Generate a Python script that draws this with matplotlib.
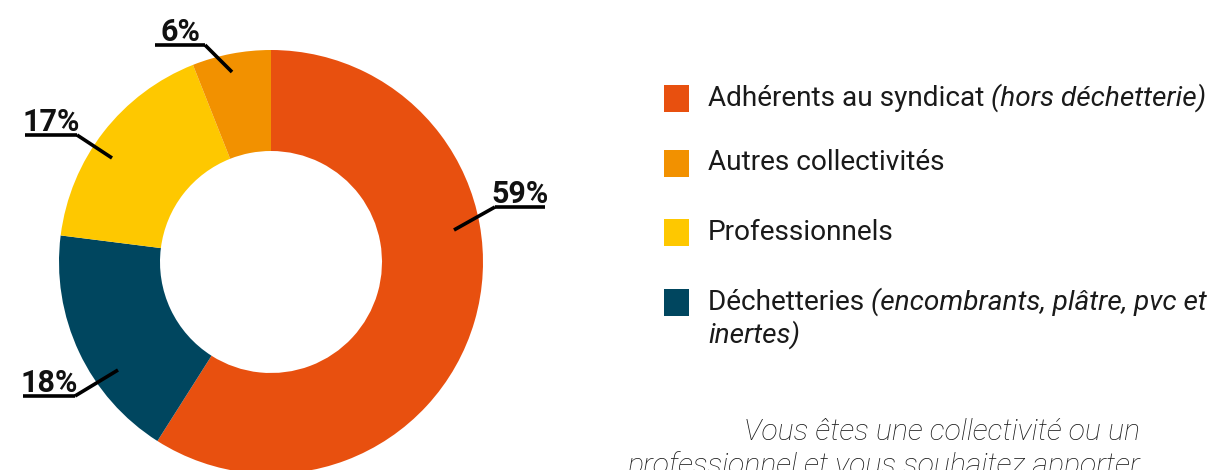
import matplotlib
matplotlib.use("Agg")
import matplotlib.pyplot as plt
from matplotlib.patches import Rectangle

W, H = 1218, 470

# data
categories = ["Adhérents au syndicat", "Déchetteries", "Professionnels", "Autres collectivités"]
values = [59, 18, 17, 6]
labels = ["59%", "18%", "17%", "6%"]
colors = ["#E8500F", "#00465F", "#FEC800", "#F29100"]

legend_main = ["Adhérents au syndicat ", "Autres collectivités", "Professionnels", "Déchetteries "]
legend_extra = ["(hors déchetterie)", "", "", "(encombrants, plâtre, pvc et"]
legend_colors = ["#E8500F", "#F29100", "#FEC800", "#00465F"]

fig = plt.figure(figsize=(W / 100, H / 100), dpi=100)
ax = fig.add_axes([0, 0, 1, 1])

def Y(y):
    return H - y

cx, cy, R, r_in = 271, 262, 212, 111
ax.pie(values, colors=colors, startangle=90, counterclock=False,
       center=(cx, Y(cy)), radius=R, frame=True,
       wedgeprops=dict(width=R - r_in, linewidth=0))
ax.set_xlim(0, W)
ax.set_ylim(0, H)
ax.axis("off")

label_pos = {
    "59%": dict(ux0=495, ux1=545, uy=207, px=454, py=230, start="left"),
    "18%": dict(ux0=23, ux1=75, uy=396, px=118, py=370, start="right"),
    "17%": dict(ux0=25, ux1=77, uy=135, px=112, py=158, start="right"),
    "6%": dict(ux0=155, ux1=205, uy=45, px=232, py=72, start="right"),
}
lab_font = dict(family=["Roboto", "DejaVu Sans"], weight="bold",
                fontsize=22, color="#111111")
for lab in labels:
    p = label_pos[lab]
    ax.plot([p["ux0"], p["ux1"]], [Y(p["uy"])] * 2, color="black", lw=2.6,
            solid_capstyle="butt")
    sx = p["ux1"] if p["start"] == "right" else p["ux0"]
    ax.plot([sx, p["px"]], [Y(p["uy"]), Y(p["py"])], color="black", lw=2.6,
            solid_capstyle="butt")
    ax.text((p["ux0"] + p["ux1"]) / 2, Y(p["uy"] + 2), lab, ha="center",
            va="bottom", **lab_font)

# legend
row_y = [98, 163, 232, 302]
leg_font = dict(family=["Roboto", "DejaVu Sans"], fontsize=20.2, color="#1a1a1a")
fig.canvas.draw()
for yy, main, extra, col in zip(row_y, legend_main, legend_extra, legend_colors):
    ax.add_patch(Rectangle((664, Y(yy + 14)), 25, 27, color=col, lw=0))
    t = ax.text(708, Y(yy), main, ha="left", va="center", **leg_font)
    if extra:
        bb = t.get_window_extent(renderer=fig.canvas.get_renderer())
        ax.text(bb.x1, Y(yy), extra, ha="left", va="center", style="italic",
                **leg_font)
ax.text(708, Y(335), "inertes)", ha="left", va="center", style="italic", **leg_font)

# footer text
foot_font = dict(family=["Roboto", "DejaVu Sans"], fontsize=21.8, color="#1a1a1a",
                 style="italic", weight="light")
ax.text(1140, Y(432), "Vous êtes une collectivité ou un", ha="right", va="center",
        **foot_font)
ax.text(1140, Y(466), "professionnel et vous souhaitez apporter", ha="right",
        va="center", **foot_font)

fig.savefig("out.png", dpi=100)
